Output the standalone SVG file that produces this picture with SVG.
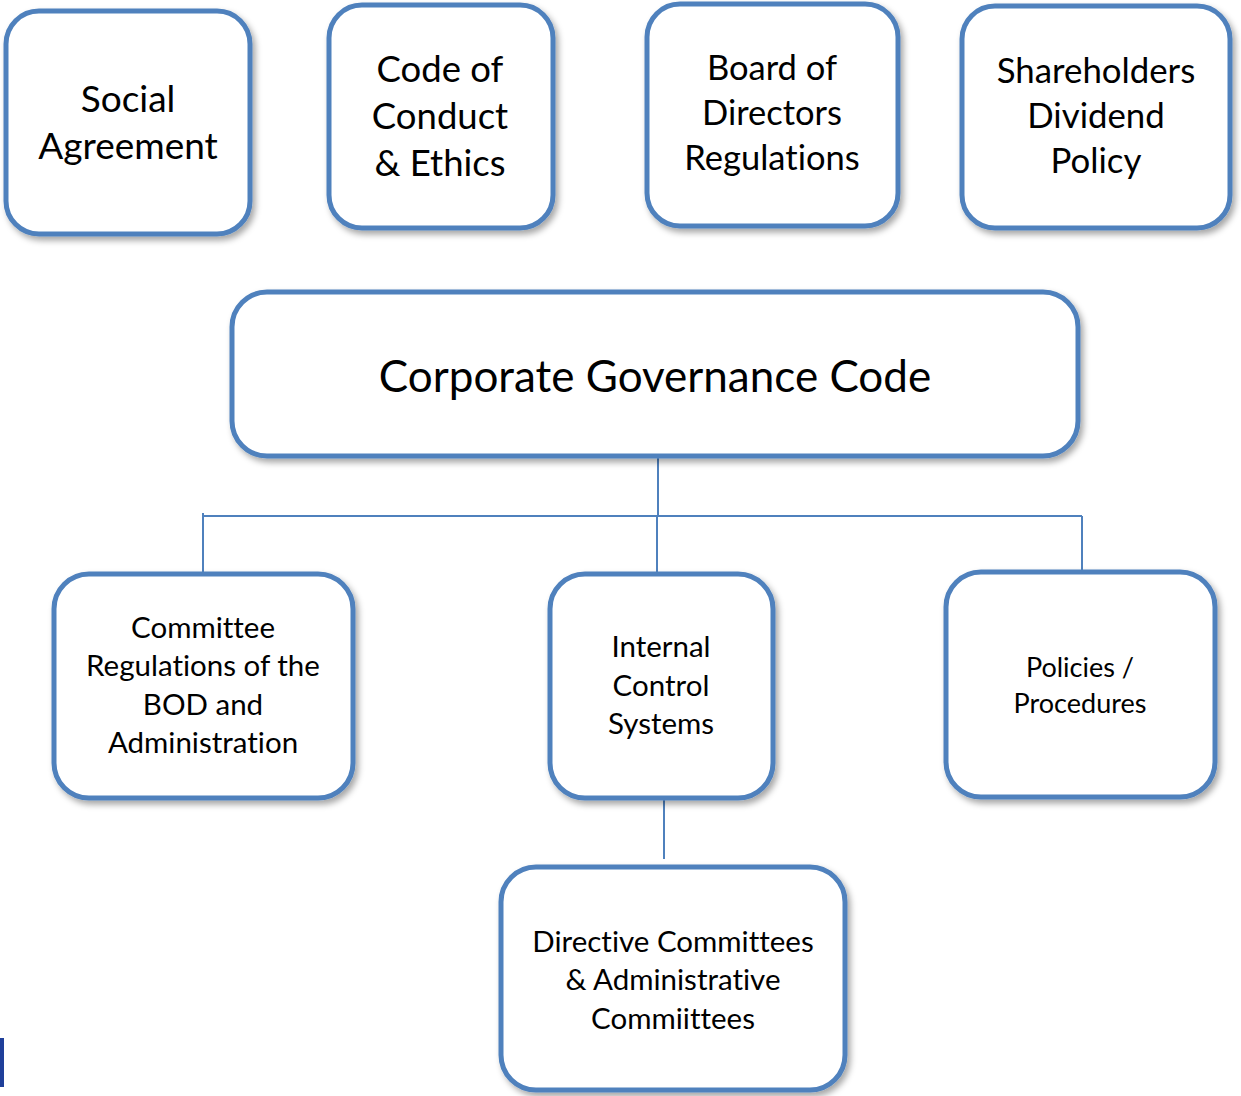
<svg xmlns="http://www.w3.org/2000/svg" width="1241" height="1096" viewBox="0 0 1241 1096">
<defs>
<filter id="sh" x="-10%" y="-10%" width="125%" height="130%">
<feDropShadow dx="3" dy="4" stdDeviation="3" flood-color="#000" flood-opacity="0.35"/>
</filter>
<style>
.box{fill:#fff;stroke:#4f81bd;stroke-width:5;filter:url(#sh)}
.t{font-family:Lato,"Open Sans","Liberation Sans",sans-serif;fill:#000;text-anchor:middle;font-variant-ligatures:none;font-feature-settings:"liga" 0,"dlig" 0}
.c{stroke:#4f81bd;stroke-width:2;fill:none}
</style>
</defs>
<rect width="1241" height="1096" fill="#fff"/>
<g id="connectors">
<line class="c" x1="658" y1="458" x2="658" y2="516"/>
<line class="c" x1="203" y1="516" x2="1082" y2="516"/>
<line class="c" x1="203" y1="513" x2="203" y2="573"/>
<line class="c" x1="657" y1="516" x2="657" y2="577"/>
<line class="c" x1="1082" y1="516" x2="1082" y2="577"/>
<line class="c" x1="664" y1="800" x2="664" y2="859"/>
</g>
<g id="social">
<rect class="box" x="6" y="11" width="244" height="223" rx="33"/>
<text class="t" font-size="37"><tspan x="128" y="112">Social</tspan><tspan x="128" y="159">Agreement</tspan></text>
</g>
<g id="code">
<rect class="box" x="329" y="5" width="224" height="223" rx="33"/>
<text class="t" font-size="36.5"><tspan x="440" y="82">Code of</tspan><tspan x="440" y="129">Conduct</tspan><tspan x="440" y="176">&amp; Ethics</tspan></text>
</g>
<g id="board">
<rect class="box" x="647" y="4" width="251" height="222" rx="33"/>
<text class="t" font-size="34.5"><tspan x="772" y="80">Board of</tspan><tspan x="772" y="125">Directors</tspan><tspan x="772" y="170">Regulations</tspan></text>
</g>
<g id="shareholders">
<rect class="box" x="962" y="6" width="268" height="222" rx="33"/>
<text class="t" font-size="34.8"><tspan x="1096" y="83">Shareholders</tspan><tspan x="1096" y="128">Dividend</tspan><tspan x="1096" y="173">Policy</tspan></text>
</g>
<g id="corporate">
<rect class="box" x="232" y="292" width="846" height="164" rx="35"/>
<text class="t" font-size="44" x="655" y="392">Corporate Governance Code</text>
</g>
<g id="committee">
<rect class="box" x="54" y="574" width="299" height="224" rx="35"/>
<text class="t" font-size="29.5"><tspan x="203" y="638">Committee</tspan><tspan x="203" y="676">Regulations of the</tspan><tspan x="203" y="715">BOD and</tspan><tspan x="203" y="753">Administration</tspan></text>
</g>
<g id="internal">
<rect class="box" x="550" y="574" width="223" height="224" rx="35"/>
<text class="t" font-size="29.5"><tspan x="661" y="657">Internal</tspan><tspan x="661" y="696">Control</tspan><tspan x="661" y="734">Systems</tspan></text>
</g>
<g id="policies">
<rect class="box" x="946" y="572" width="269" height="225" rx="35"/>
<text class="t" font-size="27"><tspan x="1080" y="677">Policies /</tspan><tspan x="1080" y="713">Procedures</tspan></text>
</g>
<g id="directive">
<rect class="box" x="501" y="867" width="344" height="223" rx="35"/>
<text class="t" font-size="29.5"><tspan x="673" y="952">Directive Committees</tspan><tspan x="673" y="990">&amp; Administrative</tspan><tspan x="673" y="1029">Commiittees</tspan></text>
</g>
<rect x="0" y="1038" width="4" height="49" fill="#1f3f9a"/>
</svg>
